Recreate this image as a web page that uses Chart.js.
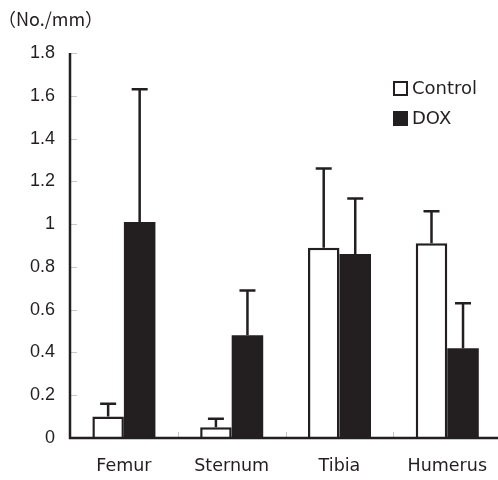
<!DOCTYPE html>
<html>
<head>
<meta charset="utf-8">
<script src="https://cdn.jsdelivr.net/npm/chart.js@4/dist/chart.umd.min.js"></script>
<style>
html,body{margin:0;padding:0;background:#fff;overflow:hidden;}
#wrap{position:relative;width:498px;height:480px;overflow:hidden;}
</style>
</head>
<body>
<div id="wrap"><canvas id="c" width="505" height="480"></canvas></div>
<script>
const categories = ["Femur", "Sternum", "Tibia", "Humerus"];
const controlValues = [0.10, 0.05, 0.89, 0.91];
const controlErrors = [0.06, 0.04, 0.37, 0.15];
const doxValues = [1.01, 0.48, 0.86, 0.42];
const doxErrors = [0.62, 0.21, 0.26, 0.21];
const yTicks = [0, 0.2, 0.4, 0.6, 0.8, 1, 1.2, 1.4, 1.6, 1.8];
const unitLabel = "（No./mm）";

const FONT = "'Liberation Sans', Arial, sans-serif";
const WFONT = "'DejaVu Sans', sans-serif";
const INK = '#231f20';

const errorBars = {
  id: 'errorBars',
  afterDatasetsDraw(chart) {
    const ctx = chart.ctx;
    const y = chart.scales.y;
    chart.data.datasets.forEach((ds, i) => {
      const meta = chart.getDatasetMeta(i);
      meta.data.forEach((bar, j) => {
        const top = y.getPixelForValue(ds.data[j]);
        const end = y.getPixelForValue(ds.data[j] + ds.errors[j]);
        ctx.save();
        ctx.strokeStyle = INK;
        ctx.lineWidth = 2.5;
        ctx.beginPath();
        ctx.moveTo(bar.x, top);
        ctx.lineTo(bar.x, end);
        ctx.moveTo(bar.x - 8, end);
        ctx.lineTo(bar.x + 8, end);
        ctx.stroke();
        ctx.restore();
      });
    });
  }
};

const axesDecor = {
  id: 'axesDecor',
  afterDatasetsDraw(chart) {
    const ctx = chart.ctx;
    const {left, right, top, bottom} = chart.chartArea;
    const x = chart.scales.x, y = chart.scales.y;
    ctx.save();
    // inner ticks
    ctx.strokeStyle = '#c8c8c8';
    ctx.lineWidth = 1;
    ctx.beginPath();
    y.ticks.forEach(t => {
      const py = Math.round(y.getPixelForValue(t.value)) + 0.5;
      ctx.moveTo(left, py); ctx.lineTo(left + 7, py);
    });
    const n = categories.length;
    for (let k = 1; k < n; k++) {
      const px = Math.round((x.getPixelForValue(k - 1) + x.getPixelForValue(k)) / 2) + 0.5;
      ctx.moveTo(px, bottom); ctx.lineTo(px, bottom - 6);
    }
    ctx.stroke();
    // axis lines
    ctx.strokeStyle = INK;
    ctx.lineWidth = 2.5;
    ctx.beginPath();
    ctx.moveTo(left, top);
    ctx.lineTo(left, bottom);
    ctx.lineTo(chart.width, bottom);
    ctx.stroke();
    // unit label
    ctx.fillStyle = INK;
    ctx.font = "18px 'Noto Sans CJK JP', " + FONT;
    ctx.textBaseline = 'middle';
    ctx.textAlign = 'left';
    ctx.fillText(unitLabel, -2, 19);
    // legend
    ctx.font = '18px ' + WFONT;
    chart.data.datasets.forEach((ds, i) => {
      const ly = 88 + i * 30;
      ctx.fillStyle = ds.backgroundColor;
      ctx.fillRect(393, ly - 7, 15, 15);
      ctx.strokeStyle = INK;
      ctx.lineWidth = 2;
      ctx.strokeRect(394, ly - 6, 13, 13);
      ctx.fillStyle = INK;
      ctx.fillText(ds.label, 412, ly + 1);
    });
    ctx.restore();
  }
};

new Chart(document.getElementById('c'), {
  type: 'bar',
  data: {
    labels: categories,
    datasets: [
      { label: 'Control', data: controlValues, errors: controlErrors,
        backgroundColor: '#ffffff', borderColor: INK, borderWidth: 2.5, borderSkipped: 'bottom' },
      { label: 'DOX', data: doxValues, errors: doxErrors,
        backgroundColor: INK, borderColor: INK, borderWidth: 0 }
    ]
  },
  options: {
    responsive: false,
    animation: false,
    devicePixelRatio: 1,
    layout: { padding: { top: 53, right: 0, left: 0, bottom: 0 } },
    datasets: { bar: { barPercentage: 1.0, categoryPercentage: 0.585 } },
    plugins: { legend: { display: false }, tooltip: { enabled: false } },
    scales: {
      x: {
        grid: { display: false, drawTicks: false },
        border: { display: false },
        ticks: { color: INK, font: { family: WFONT, size: 17.5 }, padding: 18, maxRotation: 0 },
        afterFit(s) { s.height = 42; }
      },
      y: {
        min: 0, max: 1.8,
        afterBuildTicks(s) { s.ticks = yTicks.map(v => ({ value: v })); },
        grid: { display: false, drawTicks: false },
        border: { display: false },
        ticks: { color: INK, font: { family: FONT, size: 18 }, padding: 15,
          callback: v => String(v) },
        afterFit(s) { s.width = 70; }
      }
    }
  },
  plugins: [errorBars, axesDecor]
});
</script>
</body>
</html>
